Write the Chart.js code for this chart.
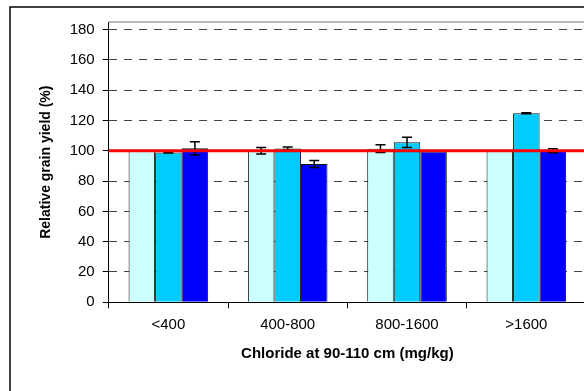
<!DOCTYPE html>
<html>
<head>
<meta charset="utf-8">
<script src="https://cdn.jsdelivr.net/npm/chart.js@4/dist/chart.umd.min.js"></script>
<style>
  html, body { margin: 0; padding: 0; background: #fff; overflow: hidden; }
  #chart { position: absolute; left: 0; top: 0; }
</style>
</head>
<body>
<canvas id="chart" width="600" height="391" style="width:600px;height:391px"></canvas>
<script>
// values
const categories = ['<400', '400-800', '800-1600', '>1600'];
const lightValues = [100, 100, 101.4, 100];
const lightErrors = [0, 2.2, 2.6, 0];
const midValues = [98.8, 101.5, 105.6, 124.8];
const midErrors = [0.3, 1, 3.4, 0.3];
const darkValues = [101.6, 91.3, 99.5, 100];
const darkErrors = [4.3, 2.3, 0, 1.35];
const referenceValue = 100;
const yTicks = [0, 20, 40, 60, 80, 100, 120, 140, 160, 180];

const errorSets = [lightErrors, midErrors, darkErrors];
const FONT = "'Liberation Sans', Arial, sans-serif";

// outer chart frame (only left and top edges fall inside the window)
const framePlugin = {
  id: 'frame',
  beforeDraw(chart) {
    const { ctx, width, height } = chart;
    ctx.save();
    ctx.strokeStyle = '#000';
    ctx.lineWidth = 1.5;
    ctx.beginPath();
    ctx.moveTo(10, height + 5);
    ctx.lineTo(10, 7);
    ctx.lineTo(width + 5, 7);
    ctx.stroke();
    ctx.restore();
  }
};

// error bars, the red 100% line and the plot-area top edge
const overlayPlugin = {
  id: 'overlay',
  afterDatasetsDraw(chart) {
    const { ctx, chartArea, scales: { y } } = chart;
    ctx.save();
    ctx.strokeStyle = '#000';
    ctx.lineWidth = 1.5;
    chart.data.datasets.forEach((ds, di) => {
      const meta = chart.getDatasetMeta(di);
      meta.data.forEach((bar, i) => {
        const err = errorSets[di][i];
        if (!err) return;
        const v = ds.data[i];
        const top = y.getPixelForValue(v + err);
        const bot = y.getPixelForValue(v - err);
        ctx.beginPath();
        ctx.moveTo(bar.x, top);
        ctx.lineTo(bar.x, bot);
        ctx.moveTo(bar.x - 5, top);
        ctx.lineTo(bar.x + 5, top);
        ctx.moveTo(bar.x - 5, bot);
        ctx.lineTo(bar.x + 5, bot);
        ctx.stroke();
      });
    });

    const ry = y.getPixelForValue(referenceValue);
    ctx.strokeStyle = '#ff0000';
    ctx.lineWidth = 3;
    ctx.beginPath();
    ctx.moveTo(chartArea.left, ry);
    ctx.lineTo(chartArea.right, ry);
    ctx.stroke();

    ctx.strokeStyle = '#a0a0a0';
    ctx.lineWidth = 1.5;
    ctx.beginPath();
    ctx.moveTo(chartArea.left, chartArea.top);
    ctx.lineTo(chartArea.right, chartArea.top);
    ctx.stroke();
    ctx.restore();
  }
};

const barStyle = { borderColor: '#111', borderWidth: 1, barPercentage: 1, categoryPercentage: 0.667 };

new Chart(document.getElementById('chart').getContext('2d'), {
  type: 'bar',
  data: {
    labels: categories,
    datasets: [
      { label: 'Series 1', data: lightValues, backgroundColor: '#ccffff', ...barStyle },
      { label: 'Series 2', data: midValues, backgroundColor: '#00ccff', ...barStyle },
      { label: 'Series 3', data: darkValues, backgroundColor: '#0000ff', ...barStyle }
    ]
  },
  options: {
    responsive: false,
    animation: false,
    devicePixelRatio: 1,
    layout: { padding: { left: 0, top: 22, right: 14, bottom: 0 } },
    plugins: { legend: { display: false }, tooltip: { enabled: false } },
    scales: {
      x: {
        afterFit: (scale) => { scale.height = 88.7; },
        grid: { drawOnChartArea: false, drawTicks: true, tickLength: 6, tickColor: '#000', offset: true },
        border: { color: '#000', width: 1 },
        ticks: { color: '#000', padding: 8, font: { family: FONT, size: 15 } },
        title: {
          display: true,
          text: 'Chloride at 90-110 cm (mg/kg)',
          color: '#000',
          font: { family: FONT, size: 15, weight: 'bold' },
          padding: { top: 0, bottom: 28.6 }
        }
      },
      y: {
        min: 0,
        max: 185,
        afterFit: (scale) => { scale.width = 108.7; },
        afterBuildTicks: (scale) => { scale.ticks = yTicks.map(v => ({ value: v })); },
        grid: { color: '#444', lineWidth: 1, tickLength: 6, tickColor: '#000', tickBorderDash: [] },
        border: { color: '#000', width: 1, dash: [8, 7] },
        ticks: { color: '#000', padding: 8, font: { family: FONT, size: 15 } },
        title: {
          display: true,
          text: 'Relative grain yield (%)',
          color: '#000',
          font: { family: FONT, size: 14, weight: 'bold' },
          padding: { top: 38, bottom: 0 }
        }
      }
    }
  },
  plugins: [framePlugin, overlayPlugin]
});
</script>
</body>
</html>
